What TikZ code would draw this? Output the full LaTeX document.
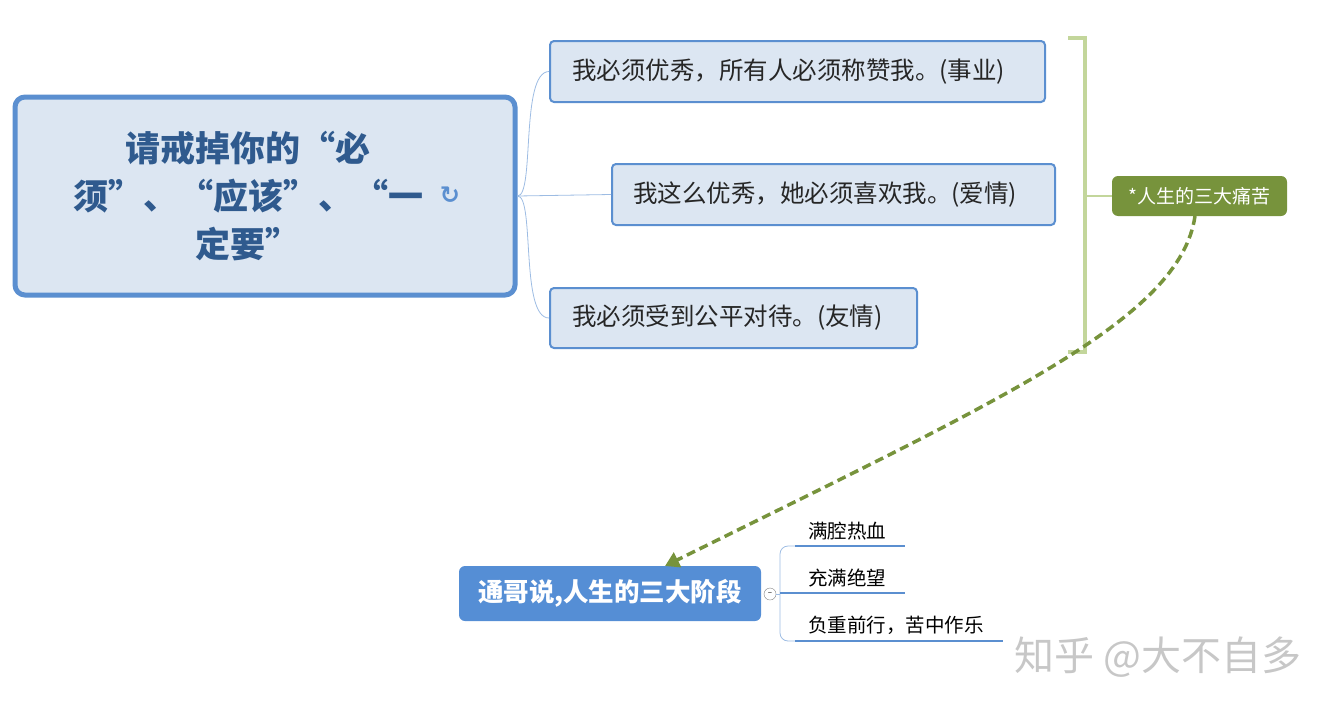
\documentclass[tikz,border=0pt]{standalone}
\usepackage{fontspec}
\setmainfont{Noto Sans CJK SC}
\newfontfamily\dv{DejaVu Sans}
\usetikzlibrary{arrows.meta}
\definecolor{bl}{HTML}{5B8FD0}
\definecolor{lb}{HTML}{DCE6F2}
\definecolor{tb}{HTML}{2F5A8E}
\definecolor{gl}{HTML}{C3D69B}
\definecolor{gd}{HTML}{77933C}
\definecolor{nb}{HTML}{558ED5}
\tikzset{
 sub/.style={draw=bl,line width=2pt,fill=lb,rounded corners=4pt,inner sep=0pt},
 subtxt/.style={font=\fontsize{24.5}{26}\selectfont,text=black!85,anchor=west,inner sep=0pt},
 con/.style={draw=bl!60,line width=0.8pt},
 item/.style={font=\fontsize{19.5}{21}\selectfont,anchor=south west,inner sep=2pt},
 ul/.style={draw=bl,line width=2.5pt}
}
\begin{document}
\begin{tikzpicture}[x=1pt,y=-1pt]
\useasboundingbox (0,0) rectangle (1337,712);
\node[draw=bl,line width=5pt,fill=lb,rounded corners=10pt,minimum width=500pt,minimum height=198pt,inner sep=0pt] (main) at (265,196) {};
\node[text=tb,font=\bfseries\fontsize{35}{48}\selectfont,align=center] (mt) at (248,196) {请戒掉你的“必\\须”、“应该”、“一\\定要”};
\node[text=bl,font=\dv\bfseries\fontsize{24}{24}\selectfont] (ic) at (450,195) {↻};
\node[sub,minimum width=495pt,minimum height=61pt] (b1) at (797.5,71.5) {};
\node[subtxt] (t1) at (572,72) {我必须优秀，所有人必须称赞我。(事业)};
\node[sub,minimum width=443pt,minimum height=61pt] (b2) at (833.5,194.5) {};
\node[subtxt] (t2) at (633,195) {我这么优秀，她必须喜欢我。(爱情)};
\node[sub,minimum width=367pt,minimum height=60pt] (b3) at (733.5,318) {};
\node[subtxt] (t3) at (572,318) {我必须受到公平对待。(友情)};
\draw[con] (main.east) .. controls (535,196) and (520,72) .. (b1.west);
\draw[con] (main.east) -- (b2.west);
\draw[con] (main.east) .. controls (535,196) and (520,318) .. (b3.west);
\node[fill=gd,rounded corners=6pt,minimum width=175pt,minimum height=40pt,text=white,font=\itshape\fontsize{19}{21}\selectfont,inner sep=0pt] (lab) at (1199.5,196) {*人生的三大痛苦};
\coordinate (bt) at (1068,38);
\coordinate (bb) at (1068,352);
\draw[gl,line width=4pt] (bt) -- (1085,38) -- (1085,352) -- (bb);
\draw[gl,line width=2pt] (1085,196) -- (lab.west);
\node[fill=nb,rounded corners=6pt,minimum width=302pt,minimum height=55pt,text=white,font=\bfseries\fontsize{25.5}{27}\selectfont,inner sep=0pt] (st) at (610,593.5) {通哥说,人生的三大阶段};
\draw[gd,line width=3.5pt,dash pattern=on 9pt off 5pt,-{Triangle[length=14pt,width=16pt]}] (1195,216) .. controls (1180,320) and (1000,400) .. (665,566);
\node[draw=gray,circle,inner sep=0pt,minimum size=12pt,font=\fontsize{8}{8}\selectfont] (cc) at (770,594) {–};
\draw[bl!60,line width=0.8pt] (cc.east) -- (780,594);
\draw[bl!60,line width=0.8pt,rounded corners=8pt] (795,546) -- (780,546) -- (780,641) -- (795,641);
\draw[ul] (795,546) -- (905,546);
\draw[ul] (780,593) -- (905,593);
\draw[ul] (795,641) -- (1003,641);
\node[item] (i1) at (806,542) {满腔热血};
\node[item] (i2) at (806,589) {充满绝望};
\node[item] (i3) at (806,637) {负重前行，苦中作乐};
\node[text=black!22,font=\fontsize{40}{42}\selectfont] (wm) at (1158,657) {知乎 @大不自多};
\end{tikzpicture}
\end{document}
